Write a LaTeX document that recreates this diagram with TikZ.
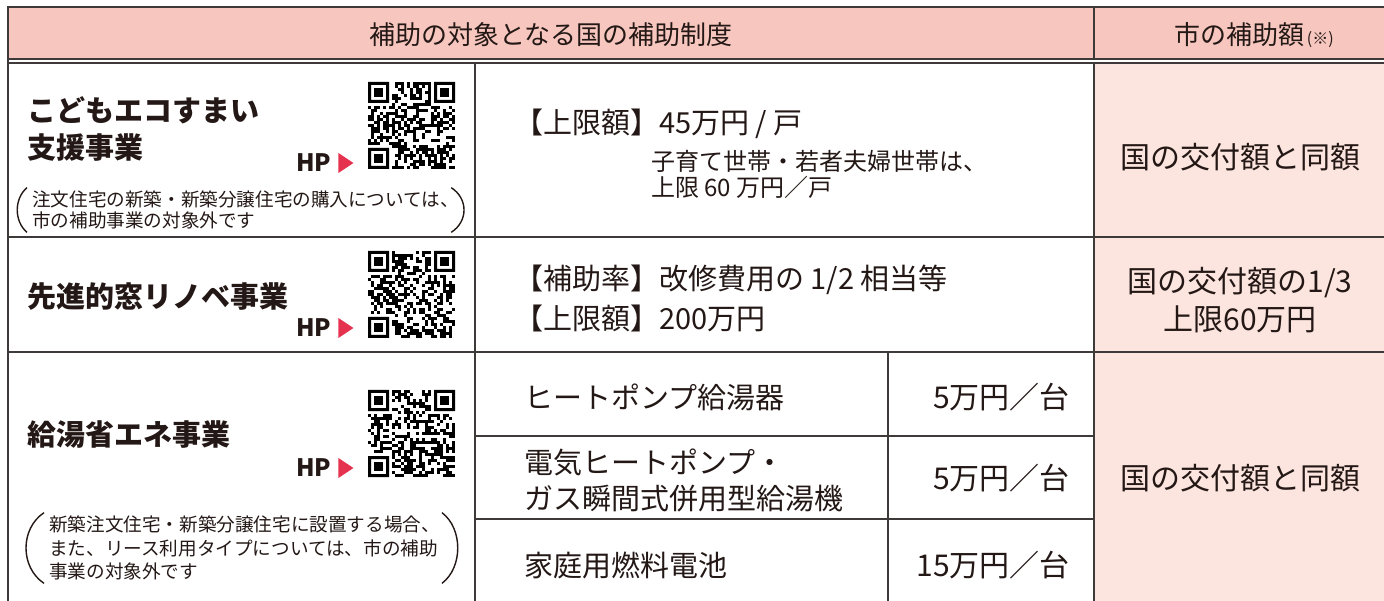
\documentclass[tikz,border=0pt]{standalone}
\usepackage{fontspec}
\setmainfont{Noto Sans CJK JP}
\usetikzlibrary{positioning}

\definecolor{ink}{HTML}{231815}
\definecolor{rulegray}{HTML}{3E3A39}
\definecolor{headpink}{HTML}{F7C6BE}
\definecolor{cellpink}{HTML}{FDE5DF}
\definecolor{hpred}{HTML}{E5334F}

% QR-like patch, 29 x 29 modules of 3pt
\newcommand\qrpatch[2]{%
  \begin{scope}[shift={(#1)}]
    \pgfmathsetseed{#2}
    \foreach \i in {0,...,28}{
      \foreach \j in {0,...,28}{
        \pgfmathtruncatemacro\keep{and(rnd<0.5,not(or(and(\i<8,\j<8),or(and(\i>20,\j<8),and(\i<8,\j>20)))))}
        \ifnum\keep=1 \fill (3*\i,3*\j) rectangle ++(3,3);\fi
      }
    }
    \foreach \a/\b in {0/0,66/0,0/66}{
      \fill[even odd rule] (\a,\b) rectangle ++(21,21) (\a+3,\b+3) rectangle ++(15,15);
      \fill (\a+6,\b+6) rectangle ++(9,9);
    }
  \end{scope}}

\begin{document}
\begin{tikzpicture}[x=1pt,y=-1pt,inner sep=0pt,text=ink,
  headtext/.style={font=\fontsize{26}{30}\selectfont},
  schemename/.style={font=\fontsize{29}{37}\selectfont\bfseries,align=left,anchor=west},
  hplabel/.style={font=\fontsize{24}{28}\selectfont\bfseries,anchor=west},
  note/.style={font=\fontsize{18.6}{21}\selectfont,align=left,anchor=west},
  paren/.style={ink,line width=1.4pt},
  body/.style={font=\fontsize{29}{40}\selectfont,align=left,anchor=west},
  subnote/.style={font=\fontsize{24}{26}\selectfont,align=left,anchor=west},
  amount/.style={font=\fontsize{30}{32}\selectfont,anchor=east},
  city/.style={font=\fontsize{30}{38}\selectfont,align=center},
  grid line/.style={rulegray,line width=1.3pt},
  frame line/.style={rulegray,line width=2pt}]
\def\colB{475}
\def\colC{888}
\def\colD{1094}
\def\rowA{63}
\def\rowB{237}
\def\rowC{352}
\def\rowD{436}
\def\rowE{519}
\useasboundingbox (0,0) rectangle (1384,601);
% fills
\fill[headpink] (8,7) rectangle (1384,59);
\fill[cellpink] (\colD,\rowA) rectangle (1384,601);
% rules
\draw[frame line] (8,601) -- (8,7) -- (1384,7);
\draw[frame line] (8,59) -- (1384,59);
\draw[grid line] (8,\rowA) -- (1384,\rowA);
\draw[grid line] (\colD,7) -- (\colD,59);
\draw[grid line] (\colB,\rowA) -- (\colB,601);
\draw[grid line] (\colD,\rowA) -- (\colD,601);
\draw[grid line] (8,\rowB) -- (1384,\rowB);
\draw[grid line] (8,\rowC) -- (1384,\rowC);
\draw[grid line] (\colB,\rowD) -- (\colD,\rowD);
\draw[grid line] (\colB,\rowE) -- (\colD,\rowE);
\draw[grid line] (\colC,\rowC) -- (\colC,601);

% header
\node[headtext] (head) at (551,35) {補助の対象となる国の補助制度};
\node[headtext] (headCity) at (1254,35) {市の補助額{\fontsize{16}{18}\selectfont\,(※)}};

% left column
\node[schemename] (eco) at (27,128.5) {こどもエコすまい\\支援事業};
\node[hplabel] (hp1) at (296,163) {HP};
\node[note] (ecoNote) at (32,210) {注文住宅の新築・新築分譲住宅の購入については、\\市の補助事業の対象外です};
\node[schemename] (mado) at (27,297) {先進的窓リノベ事業};
\node[hplabel] (hp2) at (296,328) {HP};
\node[schemename] (kyuto) at (27,435) {給湯省エネ事業};
\node[hplabel] (hp3) at (296,468) {HP};
\node[note,font=\fontsize{18.6}{23.5}\selectfont] (kyutoNote) at (49,548) {新築注文住宅・新築分譲住宅に設置する場合、\\また、リース利用タイプについては、市の補助\\事業の対象外です};
\foreach \n in {hp1,hp2,hp3}
  \fill[hpred] ([xshift=7pt,yshift=10pt]\n.east) -- ++(15,10) -- ++(-15,10) -- cycle;
% brackets round the notes
\draw[paren] ([xshift=-5pt,yshift=3pt]ecoNote.north west) .. controls ([xshift=-18pt,yshift=-8pt]ecoNote.north west) and ([xshift=-18pt,yshift=8pt]ecoNote.south west) .. ([xshift=-5pt,yshift=-3pt]ecoNote.south west);
\draw[paren] ([xshift=-8pt,yshift=3pt]ecoNote.north east) .. controls ([xshift=9pt,yshift=-8pt]ecoNote.north east) and ([xshift=9pt,yshift=8pt]ecoNote.south east) .. ([xshift=-8pt,yshift=-3pt]ecoNote.south east);
\draw[paren] ([xshift=-5pt,yshift=3pt]kyutoNote.north west) .. controls ([xshift=-29pt,yshift=-13pt]kyutoNote.north west) and ([xshift=-29pt,yshift=13pt]kyutoNote.south west) .. ([xshift=-5pt,yshift=-3pt]kyutoNote.south west);
\draw[paren] ([xshift=2pt,yshift=3pt]kyutoNote.north east) .. controls ([xshift=23pt,yshift=-13pt]kyutoNote.north east) and ([xshift=23pt,yshift=13pt]kyutoNote.south east) .. ([xshift=2pt,yshift=-3pt]kyutoNote.south east);
\qrpatch{368,82}{11}
\qrpatch{368,251}{23}
\qrpatch{368,390}{37}

% middle column
\node[body] (ecoCap) at (514,124) {【上限額】45万円 / 戸};
\node[subnote] (ecoSub) at (651,174) {子育て世帯・若者夫婦世帯は、\\上限 60 万円／戸};
\node[body] (madoRate) at (514,298) {【補助率】改修費用の 1/2 相当等\\【上限額】200万円};
\node[body] (heatPump) at (524,397) {ヒートポンプ給湯器};
\node[body,font=\fontsize{29}{36}\selectfont] (hybrid) at (524,480) {電気ヒートポンプ・\\ガス瞬間式併用型給湯機};
\node[body] (fuelCell) at (524,565) {家庭用燃料電池};
\node[amount] (amtA) at (1070,397) {5万円／台};
\node[amount] (amtB) at (1070,478) {5万円／台};
\node[amount] (amtC) at (1070,565) {15万円／台};

% right column
\node[city] (cityA) at (1240,157) {国の交付額と同額};
\node[city] (cityB) at (1240,300) {国の交付額の1/3\\上限60万円};
\node[city] (cityC) at (1240,478) {国の交付額と同額};
\end{tikzpicture}
\end{document}
